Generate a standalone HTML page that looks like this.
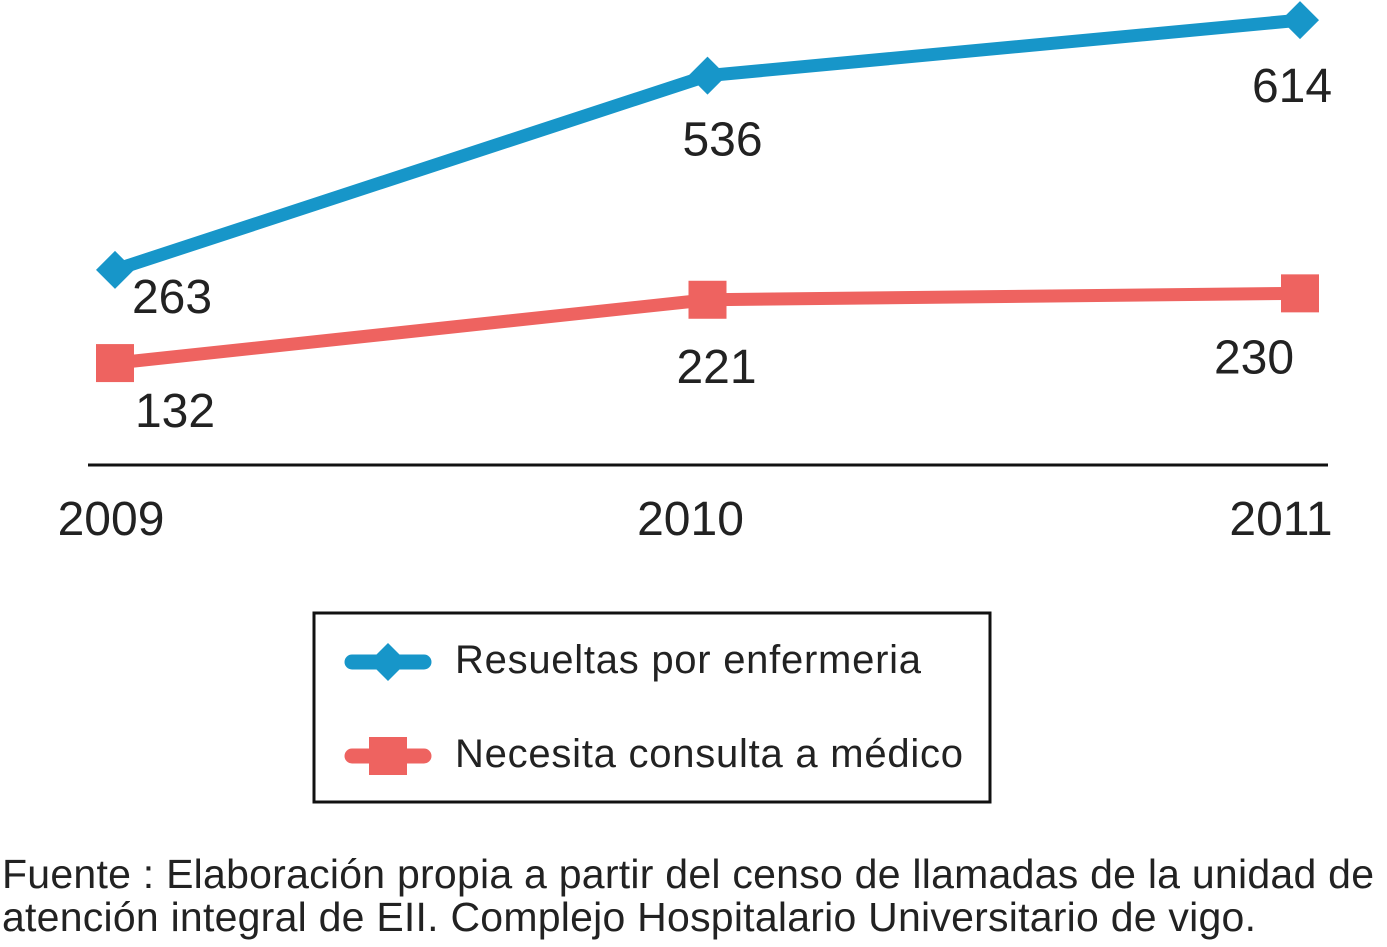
<!DOCTYPE html>
<html><head><meta charset="utf-8"><style>
html,body{margin:0;padding:0;background:#fff;}
svg{display:block;font-family:"Liberation Sans",Arial,sans-serif;}
</style></head><body>
<svg id="chart" width="1387" height="947" viewBox="0 0 1387 947" xmlns="http://www.w3.org/2000/svg">
<line x1="88" y1="465" x2="1328" y2="465" stroke="#111" stroke-width="3"/>
<g id="marks"></g>
<g id="xticks"></g>
<rect x="314" y="613" width="676" height="189" fill="none" stroke="#111" stroke-width="3"/>
<g>
<line x1="352" y1="662" x2="424" y2="662" stroke="#1796c9" stroke-width="15" stroke-linecap="round"/>
<polygon points="388,643 407,662 388,681 369,662" fill="#1796c9"/>
<text x="455" y="673" font-size="40" fill="#222" textLength="466">Resueltas por enfermeria</text>
</g>
<g>
<line x1="352" y1="756" x2="424" y2="756" stroke="#ee6360" stroke-width="15" stroke-linecap="round"/>
<rect x="369" y="737" width="38" height="38" fill="#ee6360"/>
<text x="455" y="767" font-size="40" fill="#222" textLength="508">Necesita consulta a médico</text>
</g>
<text x="2" y="888" font-size="41" fill="#222" textLength="1372">Fuente : Elaboración propia a partir del censo de llamadas de la unidad de</text>
<text x="2" y="931" font-size="41" fill="#222" textLength="1254">atención integral de EII. Complejo Hospitalario Universitario de vigo.</text>
</svg>
<script>
const years = ["2009","2010","2011"];
const resueltas = [263, 536, 614];
const necesita = [132, 221, 230];
const NS = "http://www.w3.org/2000/svg";
function xs(i){ return 115 + i*592.5; }
function ys(v){ return 457 - 0.7115*v; }
const blueLabelDx=[57,15,-8], blueLabelDy=[43,80,82];
const redLabelDx=[60,9,-46], redLabelDy=[64,83,80];
const g=document.getElementById('marks');
function mk(tag,attrs){const e=document.createElementNS(NS,tag);for(const k in attrs)e.setAttribute(k,attrs[k]);return e;}
function series(vals,color,shape,name,dx,dy){
  const pl=mk('polyline',{points:vals.map((v,i)=>xs(i)+','+ys(v)).join(' '),fill:'none',stroke:color,'stroke-width':13,'stroke-linejoin':'round'});
  
  
  g.appendChild(pl);
  vals.forEach((v,i)=>{
    const x=xs(i),y=ys(v);let m;
    if(shape==='diamond'){m=mk('polygon',{points:`${x},${y-19} ${x+19},${y} ${x},${y+19} ${x-19},${y}`,fill:color});}
    else{m=mk('rect',{x:x-19,y:y-19,width:38,height:38,fill:color});}
    
    
    g.appendChild(m);
    const t=mk('text',{x:x+dx[i],y:y+dy[i],'font-size':48,'text-anchor':'middle',fill:'#222'});
    t.textContent=v;
    
    
    g.appendChild(t);
  });
}
series(resueltas,'#1796c9','diamond','resueltas',blueLabelDx,blueLabelDy);
series(necesita,'#ee6360','square','necesita',redLabelDx,redLabelDy);
const xt=document.getElementById('xticks');
const yearDx=[-4,-17,-19];
years.forEach((y,i)=>{
  const t=mk('text',{x:xs(i)+yearDx[i],y:535,'font-size':48,'text-anchor':'middle',fill:'#222'});
  t.textContent=y;
  
  
  xt.appendChild(t);
});
</script>
</body></html>
